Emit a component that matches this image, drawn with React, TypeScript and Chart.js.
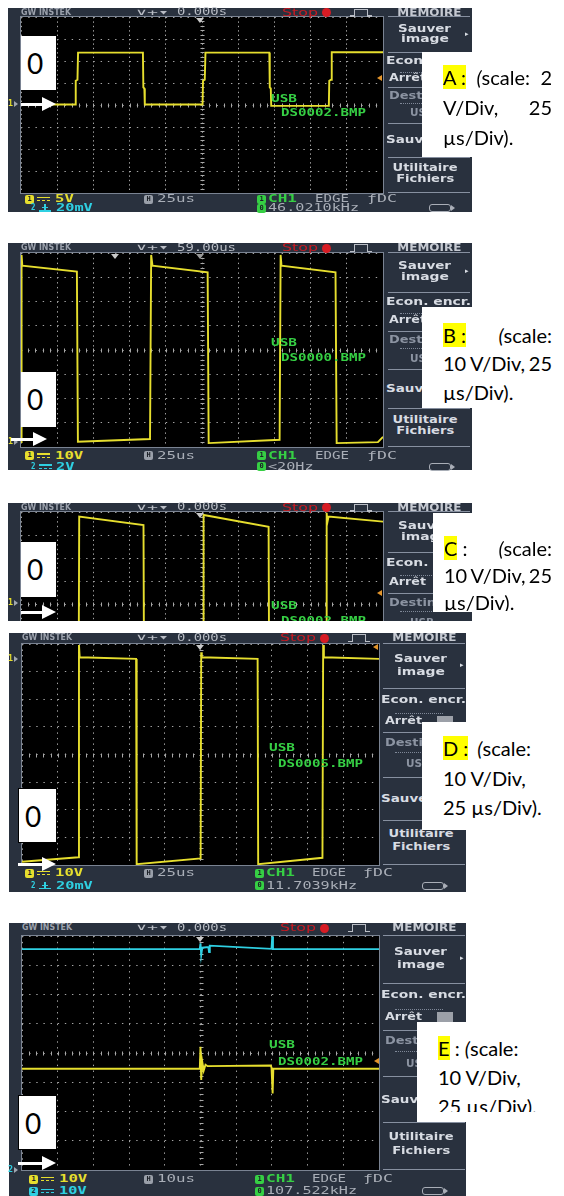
import React, { useEffect, useRef } from "react";
import { Chart, registerables } from "chart.js";
Chart.register(...registerables);

// ---------- DATA (time in µs, level in screen divisions from centre) ----------
const aTimeUs = [0, 37.6, 37.8, 39.0, 39.4, 84.2, 84.5, 85.2, 85.5, 125.4, 125.7, 126.9, 127.4, 171.5, 171.8, 172.5, 172.8, 212.6, 212.9, 214.1, 214.6, 250];
const aLevelDiv = [0.02, 0.02, 1.1, 1.15, 2.38, 2.38, 0.8, 0.75, 0.02, 0.02, 1.1, 1.15, 2.38, 2.38, 0.8, 0.75, -0.04, -0.04, 1.1, 1.15, 2.4, 2.4];

const bTimeUs = [0, 0.4, 0.9, 38.6, 39.3, 89.1, 89.9, 90.8, 128.9, 129.6, 178.6, 179.3, 179.9, 217.2, 218.0, 246.5, 250];
const bLevelDiv = [-3.8, 3.92, 3.48, 3.23, -3.78, -3.67, 3.92, 3.48, 3.2, -3.84, -3.7, 3.92, 3.48, 3.2, -3.84, -3.8, -3.58];

const cTimeUs = [0, 39.8, 40.2, 84.6, 85.0, 125.7, 126.1, 171.0, 171.4, 210.7, 211.1, 211.6, 212.4, 250];
const cLevelDiv = [-3.7, -3.7, 3.8, 3.43, -3.7, -3.7, 3.87, 3.36, -3.7, -3.7, 3.96, 3.55, 3.8, 3.58];

const dTimeUs = [0, 39.5, 39.9, 40.4, 79.9, 80.3, 125.1, 125.5, 125.9, 165.0, 165.4, 210.4, 210.9, 211.4, 250];
const dLevelDiv = [-3.88, -3.72, 3.96, 3.52, 3.46, -3.97, -3.76, 3.7, 3.52, 3.46, -3.97, -3.74, 3.96, 3.52, 3.46];

const eCh2TimeUs = [0, 49.8, 50.0, 50.2, 50.5, 52.2, 52.4, 52.6, 69.9, 70.1, 70.3, 100];
const eCh2LevelDiv = [3.55, 3.55, 3.75, 3.35, 3.6, 3.62, 3.45, 3.67, 3.56, 3.98, 3.55, 3.55];
const eCh1TimeUs = [0, 49.8, 50.0, 50.2, 50.5, 50.9, 51.4, 52.0, 69.7, 69.9, 70.2, 70.4, 100];
const eCh1LevelDiv = [-0.54, -0.54, 0.21, -0.92, -0.3, -0.6, -0.4, -0.45, -0.43, -0.5, -1.38, -0.54, -0.54];

// ---------- STYLE ----------
const YELLOW = "#e6de2e";
const CYAN = "#2fd0e2";
const GREEN = "#36cf44";
const FRAME = "#29313e";
const GRID = "#a4a4a4";
const MONO = '"DejaVu Sans Mono", monospace';
const SANS = '"DejaVu Sans", sans-serif';
const LFONT = '20px Lato, "Noto Sans", sans-serif';

let mctx: CanvasRenderingContext2D | null = null;
function measure(text: string, font: string) {
  if (!mctx) mctx = document.createElement("canvas").getContext("2d");
  mctx!.font = font;
  return mctx!.measureText(text).width || 1;
}

function ST({ x, y, text, size = 10, family = MONO, weight = "bold", color = "#c0c4cc", w, align = "left" }: any) {
  const font = `${weight} ${size}px ${family}`;
  const mw = measure(text, font);
  const sx = w ? w / mw : 1;
  const h = Math.round(size * 1.3);
  return (
    <div
      style={{
        position: "absolute",
        left: align === "center" ? x - mw / 2 : x,
        top: y - h / 2,
        width: mw + 1,
        height: h,
        lineHeight: h + "px",
        font,
        color,
        whiteSpace: "pre",
        transform: `scaleX(${sx})`,
        transformOrigin: align === "center" ? "center" : "left center",
      }}
    >
      {text}
    </div>
  );
}

const abs = (s: any) => ({ position: "absolute" as const, ...s });

const plotBg = {
  id: "plotBg",
  beforeDraw(chart: any) {
    const { ctx, chartArea: a } = chart;
    ctx.save();
    ctx.fillStyle = "#000";
    ctx.fillRect(a.left, a.top, a.width, a.height);
    ctx.restore();
  },
};
const centerTicks = {
  id: "centerTicks",
  beforeDatasetsDraw(chart: any) {
    const { ctx, scales } = chart;
    const xs = scales.x, ys = scales.y;
    const cx = Math.round(xs.getPixelForValue((xs.min + xs.max) / 2)) + 0.5;
    const cy = Math.round(ys.getPixelForValue(0)) + 0.5;
    ctx.save();
    ctx.strokeStyle = "#a8a8a8";
    ctx.lineWidth = 1;
    ctx.beginPath();
    const stepX = (xs.max - xs.min) / 50;
    for (let i = 1; i < 50; i++) {
      const px = Math.round(xs.getPixelForValue(xs.min + i * stepX)) + 0.5;
      ctx.moveTo(px, cy - 2);
      ctx.lineTo(px, cy + 2);
    }
    for (let j = 1; j < 40; j++) {
      const py = Math.round(ys.getPixelForValue(-4 + j * 0.2)) + 0.5;
      ctx.moveTo(cx - 2, py);
      ctx.lineTo(cx + 2, py);
    }
    ctx.stroke();
    ctx.restore();
  },
};
const plotBorder = {
  id: "plotBorder",
  afterDraw(chart: any) {
    const { ctx, chartArea: a } = chart;
    ctx.save();
    ctx.strokeStyle = "#7a8392";
    ctx.lineWidth = 1;
    ctx.strokeRect(Math.round(a.left) - 0.5, Math.round(a.top) - 0.5, Math.round(a.width) + 1, Math.round(a.height) + 1);
    ctx.restore();
  },
};

type Trace = { t: number[]; v: number[]; color: string };

function ScopeChart({ plot, xMax, traces }: { plot: any; xMax: number; traces: Trace[] }) {
  const ref = useRef<HTMLCanvasElement>(null);
  const P = 2;
  useEffect(() => {
    const divW = plot.w / 10, divH = plot.h / 8;
    const chart = new Chart(ref.current!, {
      type: "line",
      data: {
        datasets: traces.map((tr) => ({
          data: tr.t.map((t, i) => ({ x: t, y: tr.v[i] })),
          borderColor: tr.color,
          borderWidth: 1.9,
          pointRadius: 0,
          tension: 0,
          fill: false,
        })),
      },
      options: {
        animation: false,
        responsive: false,
        maintainAspectRatio: false,
        devicePixelRatio: 1,
        events: [],
        layout: { padding: P },
        plugins: { legend: { display: false }, tooltip: { enabled: false } },
        scales: {
          x: {
            type: "linear", min: 0, max: xMax,
            ticks: { display: false, stepSize: xMax / 10 },
            grid: { color: GRID, lineWidth: 1, drawTicks: false },
            border: { display: false, dash: [1.4, divH / 5 - 1.4] },
          },
          y: {
            type: "linear", min: -4, max: 4,
            ticks: { display: false, stepSize: 1 },
            grid: { color: GRID, lineWidth: 1, drawTicks: false },
            border: { display: false, dash: [1.4, divW / 5 - 1.4] },
          },
        },
      } as any,
      plugins: [plotBg, centerTicks, plotBorder],
    });
    return () => chart.destroy();
  }, []);
  return (
    <canvas
      ref={ref}
      width={plot.w + 2 * P}
      height={plot.h + 2 * P}
      style={abs({ left: plot.x - P, top: plot.y - P, width: plot.w + 2 * P, height: plot.h + 2 * P })}
    />
  );
}

function HLine({ x1, x2, y, color = "#8790a0" }: any) {
  return <div style={abs({ left: x1, top: y, width: x2 - x1, height: 1, background: color })} />;
}
function DotLine({ x1, x2, y }: any) {
  return <div style={abs({ left: x1, top: y, width: x2 - x1, height: 0, borderTop: "1px dotted #7f8898" })} />;
}

function Header({ y, v, time, timeW }: any) {
  const n = v === "n";
  const stopX = n ? 280 : 282;
  const px = n ? 348 : 350;
  const c = "#b9bdc5";
  return (
    <>
      <ST x={n ? 22 : 21} y={y} text="GW INSTEK" family={SANS} size={8} w={50} color="#9ca2ad" />
      <ST x={136} y={y} text="∨+▾" size={9} weight="normal" w={33} color={c} />
      <ST x={177} y={y} text={time} size={10} weight="normal" w={timeW} color={c} />
      <ST x={stopX} y={y} text="Stop" family={SANS} size={11} weight="normal" w={36} color="#c81a22" />
      <div style={abs({ left: stopX + 40, top: y - 4.5, width: 9, height: 9, borderRadius: 5, background: "#d81c24" })} />
      <div style={abs({ left: px, top: y + 2.5, width: 4, height: 1.5, background: c })} />
      <div style={abs({ left: px + 4, top: y - 4, width: 14, height: 8, boxSizing: "border-box", borderTop: `1.5px solid ${c}`, borderLeft: `1.5px solid ${c}`, borderRight: `1.5px solid ${c}` })} />
      <div style={abs({ left: px + 18, top: y + 2.5, width: 4, height: 1.5, background: c })} />
      <ST x={n ? 424 : 429} y={y} text="MEMOIRE" family={SANS} size={11} w={64} align="center" color="#c6cad2" />
    </>
  );
}

function Menu({ top, H, v }: any) {
  const L = v === "w"
    ? { cx: 425, l1: 385.5, l2: 389, s1: 388, s2: 470, ar: 465, usb: 410, box: 441 }
    : { cx: 421, l1: 381, l2: 384.5, s1: 383, s2: 465, ar: 460, usb: 406, box: 437 };
  const Y = (f: number) => top + f * H;
  const light = "#d8dce3", dim = "#8c94a2";
  return (
    <>
      <HLine x1={L.s1} x2={L.s2} y={top - 1} />
      <ST x={L.cx} y={Y(0.068)} text="Sauver" family={SANS} size={10.5} w={53} align="center" color={light} />
      <ST x={L.cx} y={Y(0.125)} text="image" family={SANS} size={10.5} w={48} align="center" color={light} />
      <ST x={L.ar} y={Y(0.097)} text="▸" family={SANS} size={7} color={light} />
      <HLine x1={L.s1} x2={L.s2} y={Y(0.199)} />
      <ST x={L.l1} y={Y(0.252)} text="Econ. encr." family={SANS} size={10.5} w={85} color={light} />
      <DotLine x1={L.s1 + 12} x2={L.s2 - 22} y={Y(0.31)} />
      <ST x={L.l2} y={Y(0.347)} text="Arrêt" family={SANS} size={10.5} w={37} color={light} />
      <div style={abs({ left: L.box, top: Y(0.347) - 5, width: 16, height: 10, background: "#9ca0a8" })} />
      <HLine x1={L.s1} x2={L.s2} y={Y(0.4)} />
      <ST x={L.l2} y={Y(0.45)} text="Destin." family={SANS} size={10.5} w={52} color={dim} />
      <DotLine x1={L.s1 + 12} x2={L.s2 - 22} y={Y(0.49)} />
      <ST x={L.usb} y={Y(0.545)} text="USB" family={SANS} size={10.5} w={24} color={dim} />
      <HLine x1={L.s1} x2={L.s2} y={Y(0.6)} />
      <ST x={L.l1} y={Y(0.7)} text="Sauver" family={SANS} size={10.5} w={53} color={light} />
      <HLine x1={L.s1} x2={L.s2} y={Y(0.797)} />
      <ST x={L.cx} y={Y(0.86)} text="Utilitaire" family={SANS} size={10.5} w={65} align="center" color={light} />
      <ST x={L.cx} y={Y(0.918)} text="Fichiers" family={SANS} size={10.5} w={58} align="center" color={light} />
      <HLine x1={L.s1} x2={L.s2} y={Y(0.995)} />
    </>
  );
}

function Icon({ x, y, bg, label }: any) {
  return (
    <div style={abs({ left: x, top: y - 4.5, width: 9, height: 9, borderRadius: 2, background: bg, color: "#1b1f26", font: `bold 7px ${MONO}`, lineHeight: "9px", textAlign: "center" })}>
      {label}
    </div>
  );
}
function DcSym({ x, y, color }: any) {
  return (
    <>
      <div style={abs({ left: x, top: y - 2.5, width: 13, height: 1.5, background: color })} />
      <div style={abs({ left: x, top: y + 1, width: 13, height: 0, borderTop: `1.5px dashed ${color}` })} />
    </>
  );
}
function GndSym({ x, y, color }: any) {
  return (
    <>
      <div style={abs({ left: x + 5, top: y - 4, width: 1.5, height: 6, background: color })} />
      <div style={abs({ left: x, top: y + 2, width: 12, height: 1.5, background: color })} />
      <div style={abs({ left: x + 3, top: y - 1, width: 6, height: 1.2, background: color })} />
    </>
  );
}

function Footer({ y1, y2, v, ch1Text, ch2Text, ch2Gnd, boxed, tb, freq }: any) {
  const n = v === "n";
  const tx = n ? 255 : 257;
  const ex = n ? 312 : 315;
  const dx = n ? 363 : 367;
  const ux = n ? 422 : 429;
  const gray = "#a9aeb7";
  const c1 = boxed ? 29 : 25;
  return (
    <>
      <Icon x={c1} y={y1} bg={YELLOW} label="1" />
      <DcSym x={c1 + 12} y={y1} color={YELLOW} />
      <ST x={c1 + 30} y={y1} text={ch1Text} size={11} w={ch1Text.length * 9.4} color={YELLOW} />
      {boxed ? (
        <Icon x={29} y={y2} bg={CYAN} label="2" />
      ) : (
        <ST x={31} y={y2} text="2" size={8} w={4.5} color={CYAN} />
      )}
      {ch2Gnd ? <GndSym x={boxed ? 41 : 39} y={y2} color={CYAN} /> : <DcSym x={boxed ? 41 : 39} y={y2} color={CYAN} />}
      <ST x={boxed ? 59 : 56} y={y2} text={ch2Text} size={11} w={ch2Text.length * 9.2} color={CYAN} />
      <Icon x={144} y={y1} bg="#9aa0aa" label="H" />
      <ST x={157} y={y1} text={tb} size={11} weight="normal" w={38} color={gray} />
      <Icon x={tx} y={y1} bg={GREEN} label="1" />
      <ST x={tx + 11} y={y1} text="CH1" size={11} w={29} color={GREEN} />
      <ST x={ex} y={y1} text="EDGE" size={11} weight="normal" w={34} color={gray} />
      <ST x={dx} y={y1} text="ƒDC" size={11} weight="normal" w={30} color={gray} />
      <Icon x={tx} y={y2} bg={GREEN} label="0" />
      <ST x={tx + 11} y={y2} text={freq} size={11} weight="normal" w={freq.length * 9.1} color={gray} />
      <div style={abs({ left: ux, top: y2 - 4, width: 22, height: 8, boxSizing: "border-box", border: `1px solid ${gray}`, borderRadius: 3 })} />
      <div style={abs({ left: ux + 22, top: y2 - 3, width: 0, height: 0, borderTop: "3px solid transparent", borderBottom: "3px solid transparent", borderLeft: `4px solid ${gray}` })} />
    </>
  );
}

function GndMark({ y, label, color }: any) {
  return (
    <>
      <ST x={8} y={y} text={label} size={8} w={5} color={color} />
      <div style={abs({ left: 14, top: y - 3, width: 0, height: 0, borderTop: "3px solid transparent", borderBottom: "3px solid transparent", borderLeft: "4px solid #a0a6b0" })} />
    </>
  );
}
function TopMark({ x, y, hollow }: any) {
  return (
    <div style={abs({ left: x - 4, top: y, width: 0, height: 0, borderLeft: "4px solid transparent", borderRight: "4px solid transparent", borderTop: `5px solid ${hollow ? "#9a9a9a" : "#c8c8c8"}` })} />
  );
}
function OrMark({ x, y }: any) {
  return (
    <div style={abs({ left: x, top: y - 3, width: 0, height: 0, borderTop: "3px solid transparent", borderBottom: "3px solid transparent", borderRight: "5px solid #e3952c" })} />
  );
}
function GreenText({ x, y, text, w }: any) {
  return <ST x={x} y={y} text={text} size={10} w={w} color={GREEN} />;
}

function Zero({ x, y, w, h, border }: any) {
  return (
    <div style={abs({ left: x, top: y, width: w, height: h, background: "#fff", boxSizing: "border-box", border: border ? "1px solid #000" : "none", font: '28px Lato, sans-serif', lineHeight: h + "px", paddingLeft: 6, color: "#000" })}>
      0
    </div>
  );
}
function Arrow({ x1, x2, y }: any) {
  return (
    <>
      <div style={abs({ left: x1, top: y - 1.5, width: x2 - x1 - 12, height: 3, background: "#fff" })} />
      <div style={abs({ left: x2 - 14, top: y - 7, width: 0, height: 0, borderTop: "7px solid transparent", borderBottom: "7px solid transparent", borderLeft: "14px solid #fff" })} />
    </>
  );
}

const Hl = ({ children }: any) => <span style={{ background: "#ffff00" }}>{children}</span>;
const Par = () => <span style={{ fontStyle: "italic" }}>(</span>;

function LabelBox({ box, textX, ys, rows, clipY }: any) {
  return (
    <>
      <div style={abs({ left: box.x, top: box.y, width: box.w, height: box.h, background: "#fff" })} />
      <div style={abs({ left: 0, top: 0, width: 564, height: clipY ?? 1196, overflow: "hidden" })}>
        {rows.map((r: any, i: number) => (
          <div
            key={i}
            style={abs({ left: textX, top: ys[i] - 12.5, width: 552 - textX, height: 25, display: "flex", alignItems: "center", justifyContent: r.j, font: LFONT, lineHeight: "25px", color: "#000", whiteSpace: "pre" })}
          >
            {r.items.map((it: any, k: number) => (
              <span key={k}>{it}</span>
            ))}
          </div>
        ))}
      </div>
    </>
  );
}

function Frame({ x, y, w, h }: any) {
  return <div style={abs({ left: x, top: y, width: w, height: h, background: FRAME })} />;
}

const plotA = { x: 21, y: 17, w: 362, h: 176 };
const plotB = { x: 21, y: 253, w: 362, h: 194 };
const plotC = { x: 21, y: 512, w: 362, h: 184 };
const plotD = { x: 22, y: 644, w: 357, h: 221 };
const plotE = { x: 22, y: 936, w: 357, h: 234 };

export default function App() {
  useEffect(() => {
    document.body.style.margin = "0";
  }, []);
  return (
    <div style={abs({ left: 0, top: 0, width: 564, height: 1196, background: "#fff", overflow: "hidden" })}>
      {/* ---------- A ---------- */}
      <Frame x={8} y={8} w={464} h={204} />
      <ScopeChart plot={plotA} xMax={250} traces={[{ t: aTimeUs, v: aLevelDiv, color: YELLOW }]} />
      <Header y={12.5} v="w" time="0.000s" timeW={50} />
      <Menu top={plotA.y} H={plotA.h} v="w" />
      <Footer y1={199} y2={208} v="w" ch1Text="5V" ch2Text="20mV" ch2Gnd tb="25us" freq="46.0210kHz" />
      <GndMark y={104} label="1" color={YELLOW} />
      <TopMark x={200} y={18} />
      <OrMark x={377} y={78} />
      <GreenText x={271} y={99} text="USB" w={26} />
      <GreenText x={281} y={113} text="DS0002.BMP" w={85} />
      <Zero x={21} y={36} w={35} h={54} />
      <Arrow x1={21} x2={56} y={104} />
      <LabelBox
        box={{ x: 422, y: 52, w: 142, h: 105 }}
        textX={443}
        ys={[77, 107, 137]}
        rows={[
          { j: "space-between", items: [<Hl>A :</Hl>, <><Par />scale:</>, "2"] },
          { j: "space-between", items: ["V/Div,", "25"] },
          { j: "flex-start", items: ["µs/Div)."] },
        ]}
      />

      {/* ---------- B ---------- */}
      <Frame x={8} y={243} w={464} h={227} />
      <ScopeChart plot={plotB} xMax={250} traces={[{ t: bTimeUs, v: bLevelDiv, color: YELLOW }]} />
      <Header y={248} v="w" time="59.00us" timeW={59} />
      <Menu top={plotB.y} H={plotB.h} v="w" />
      <Footer y1={455.7} y2={466.7} v="w" ch1Text="10V" ch2Text="2V" tb="25us" freq="<20Hz" />
      <GndMark y={442} label="1" color={YELLOW} />
      <TopMark x={115} y={254} />
      <TopMark x={200} y={254} hollow />
      <GreenText x={271} y={343} text="USB" w={26} />
      <GreenText x={281} y={358} text="DS0000.BMP" w={85} />
      <Zero x={21} y={372} w={35} h={55} />
      <Arrow x1={11} x2={47} y={439} />
      <LabelBox
        box={{ x: 422, y: 307, w: 142, h: 101 }}
        textX={443}
        ys={[335, 363, 392]}
        rows={[
          { j: "space-between", items: [<Hl>B :</Hl>, <><Par />scale:</>] },
          { j: "space-between", items: ["10", "V/Div,", "25"] },
          { j: "flex-start", items: ["µs/Div)."] },
        ]}
      />

      {/* ---------- C (cropped) ---------- */}
      <div style={abs({ left: 0, top: 0, width: 564, height: 621, overflow: "hidden" })}>
        <Frame x={8} y={503} w={464} h={200} />
        <ScopeChart plot={plotC} xMax={250} traces={[{ t: cTimeUs, v: cLevelDiv, color: YELLOW }]} />
        <Header y={507.7} v="w" time="0.000s" timeW={50} />
        <Menu top={plotC.y} H={203} v="w" />
        <GndMark y={603} label="1" color={YELLOW} />
        <TopMark x={200} y={513} />
        <OrMark x={377} y={593} />
        <GreenText x={271} y={606} text="USB" w={26} />
        <GreenText x={281} y={621} text="DS0002.BMP" w={85} />
        <Zero x={21} y={542} w={35} h={55} />
        <Arrow x1={21} x2={56} y={612} />
        <LabelBox
          box={{ x: 433, y: 513, w: 131, h: 99 }}
          textX={444}
          ys={[548, 575, 602]}
          clipY={611}
          rows={[
            { j: "space-between", items: [<><Hl>C</Hl> :</>, <><Par />scale:</>] },
            { j: "space-between", items: ["10", "V/Div,", "25"] },
            { j: "flex-start", items: ["µs/Div)."] },
          ]}
        />
      </div>

      {/* ---------- D ---------- */}
      <Frame x={9} y={633} w={457} h={259} />
      <ScopeChart plot={plotD} xMax={250} traces={[{ t: dTimeUs, v: dLevelDiv, color: YELLOW }]} />
      <Header y={638} v="n" time="0.000s" timeW={50} />
      <Menu top={plotD.y} H={plotD.h} v="n" />
      <Footer y1={873.3} y2={885.7} v="n" ch1Text="10V" ch2Text="20mV" ch2Gnd tb="25us" freq="11.7039kHz" />
      <GndMark y={659} label="1" color={YELLOW} />
      <TopMark x={200} y={645} />
      <OrMark x={373} y={647} />
      <GreenText x={269} y={748} text="USB" w={26} />
      <GreenText x={278} y={764} text="DS0005.BMP" w={85} />
      <Zero x={18} y={788} w={39} h={55} border />
      <Arrow x1={18} x2={56} y={864} />
      <LabelBox
        box={{ x: 422, y: 722, w: 142, h: 108 }}
        textX={443}
        ys={[748, 778, 807]}
        rows={[
          { j: "flex-start", items: [<Hl>D :</Hl>, <span style={{ marginLeft: 9 }}><Par />scale:</span>] },
          { j: "flex-start", items: ["10 V/Div,"] },
          { j: "flex-start", items: ["25 µs/Div)."] },
        ]}
      />

      {/* ---------- E ---------- */}
      <Frame x={9} y={923} w={457} h={273} />
      <ScopeChart
        plot={plotE}
        xMax={100}
        traces={[
          { t: eCh2TimeUs, v: eCh2LevelDiv, color: CYAN },
          { t: eCh1TimeUs, v: eCh1LevelDiv, color: YELLOW },
        ]}
      />
      <Header y={928} v="n" time="0.000s" timeW={50} />
      <Menu top={plotE.y} H={plotE.h} v="n" />
      <Footer y1={1179.3} y2={1191} v="n" boxed ch1Text="10V" ch2Text="10V" tb="10us" freq="107.522kHz" />
      <GndMark y={1170} label="2" color={CYAN} />
      <TopMark x={200} y={937} />
      <OrMark x={374} y={1061} />
      <GreenText x={269} y={1045} text="USB" w={26} />
      <GreenText x={278} y={1062} text="DS0002.BMP" w={85} />
      <Zero x={18} y={1095} w={39} h={55} border />
      <Arrow x1={18} x2={56} y={1163} />
      <LabelBox
        box={{ x: 417, y: 1022, w: 147, h: 100 }}
        textX={438}
        ys={[1048, 1077, 1106]}
        clipY={1112}
        rows={[
          { j: "flex-start", items: [<Hl>E</Hl>, " : ", <><Par />scale:</>] },
          { j: "flex-start", items: ["10 V/Div,"] },
          { j: "flex-start", items: ["25 µs/Div)."] },
        ]}
      />
    </div>
  );
}
